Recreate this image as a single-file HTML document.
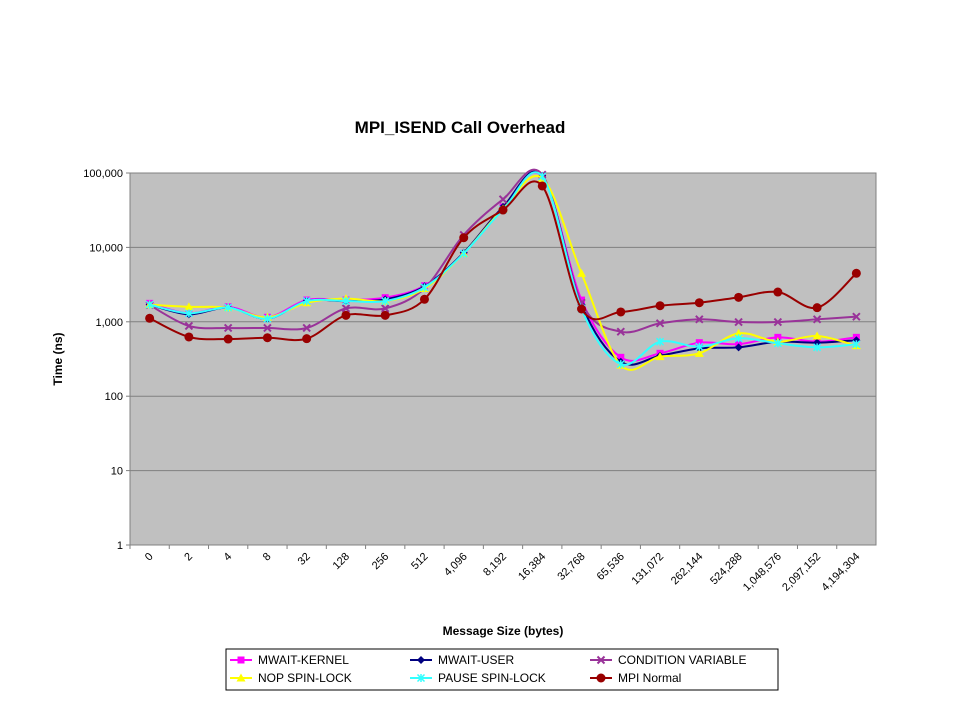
<!DOCTYPE html>
<html><head><meta charset="utf-8"><style>
body{margin:0;background:#fff;}
svg{display:block;font-family:"Liberation Sans",Arial,sans-serif;}
</style></head><body>
<svg id="chart" width="960" height="720" viewBox="0 0 960 720">
<text x="460" y="133" text-anchor="middle" font-size="17" font-weight="bold">MPI_ISEND Call Overhead</text>
<rect x="130" y="173" width="746" height="372" fill="#c0c0c0" stroke="#808080" stroke-width="1"/>
<g id="grid"></g><g id="yt"></g><g id="xt"></g><g id="series"></g>
<text transform="translate(62,359) rotate(-90)" text-anchor="middle" font-size="12" font-weight="bold">Time (ns)</text>
<text x="503" y="635" text-anchor="middle" font-size="12" font-weight="bold">Message Size (bytes)</text>
<g>
<rect x="226" y="649" width="552" height="41" fill="#fff" stroke="#000" stroke-width="1"/>
<g id="legend"></g>
</g>
</svg>
<script>
const categories=["0","2","4","8","32","128","256","512","4,096","8,192","16,384","32,768","65,536","131,072","262,144","524,288","1,048,576","2,097,152","4,194,304"];
const yTicks=[1,10,100,1000,10000,100000];
const yTickLabels=["1","10","100","1,000","10,000","100,000"];
const seriesNames=["MWAIT-KERNEL","MWAIT-USER","CONDITION VARIABLE","NOP SPIN-LOCK","PAUSE SPIN-LOCK","MPI Normal"];
const mwaitKernel=[1770,1300,1590,1150,1960,1960,2110,3050,8320,35000,90000,1960,333,377,524,500,618,540,618];
const mwaitUser=[1700,1260,1550,1100,1900,1900,2000,3000,8500,35000,92000,1700,290,350,440,454,540,524,566];
const condVar=[1680,879,826,826,826,1515,1515,2820,14700,44300,95000,1800,736,955,1080,993,993,1080,1172];
const nopSpin=[1700,1590,1550,1150,1800,2050,1900,2800,8300,33000,85000,4480,262,340,377,700,540,645,478];
const pauseSpin=[1700,1300,1550,1100,1900,1900,1900,2900,8300,32000,90000,1500,270,540,462,600,514,454,500];
const mpiNormal=[1115,625,587,611,593,1222,1222,2006,13500,31800,66900,1486,1355,1645,1806,2133,2513,1548,4487];
const allSeries=[mwaitKernel,mwaitUser,condVar,nopSpin,pauseSpin,mpiNormal];
const colors=["#ff00ff","#000080","#993399","#ffff00","#33ffff","#990000"];
const markers=["square","diamond","x","triangle","star","circle"];
const NS="http://www.w3.org/2000/svg";
const L=130,R=876,T=173,B=545;
function xs(i){return L+(i+0.5)*(R-L)/categories.length;}
function ys(v){return B-(Math.log10(v)-0)/5*(B-T);}
function mk(tag,attrs,parent){const e=document.createElementNS(NS,tag);for(const k in attrs)e.setAttribute(k,attrs[k]);parent.appendChild(e);return e;}
const grid=document.getElementById('grid'),yt=document.getElementById('yt'),xt=document.getElementById('xt');
yTicks.forEach((t,i)=>{const y=ys(t);
 if(i>0&&i<yTicks.length-1){const g=mk('line',{x1:L,x2:R,y1:y,y2:y,stroke:'#808080','stroke-width':1},grid);}
 mk('line',{x1:L-4,x2:L,y1:y,y2:y,stroke:'#808080'},yt);
 const tx=mk('text',{x:L-7,y:y+4,'text-anchor':'end','font-size':11},yt);tx.textContent=yTickLabels[i];
 });
categories.forEach((c,i)=>{const x=xs(i);
 mk('line',{x1:L+i*(R-L)/categories.length,x2:L+i*(R-L)/categories.length,y1:B,y2:B+4,stroke:'#808080'},xt);
 const tx=mk('text',{transform:`translate(${x+4},${B+12}) rotate(-45)`,'text-anchor':'end','font-size':11},xt);tx.textContent=c;
 });
function marker(type,x,y,col,parent){
 let e;
 if(type==='square')e=mk('rect',{x:x-3.5,y:y-3.5,width:7,height:7,fill:col},parent);
 else if(type==='diamond')e=mk('polygon',{points:`${x},${y-4} ${x+4},${y} ${x},${y+4} ${x-4},${y}`,fill:col},parent);
 else if(type==='triangle')e=mk('polygon',{points:`${x},${y-4.5} ${x+4.5},${y+3.5} ${x-4.5},${y+3.5}`,fill:col},parent);
 else if(type==='circle')e=mk('circle',{cx:x,cy:y,r:4.5,fill:col},parent);
 else if(type==='x')e=mk('path',{d:`M${x-3.5},${y-3.5}L${x+3.5},${y+3.5}M${x+3.5},${y-3.5}L${x-3.5},${y+3.5}`,stroke:col,'stroke-width':2},parent);
 else e=mk('path',{d:`M${x-3.5},${y-3.5}L${x+3.5},${y+3.5}M${x+3.5},${y-3.5}L${x-3.5},${y+3.5}M${x},${y-4}L${x},${y+4}`,stroke:col,'stroke-width':1.5},parent);
 return e;}
const sg=document.getElementById('series');
allSeries.forEach((data,s)=>{
 const g=mk('g',{},sg);
 const p=data.map((v,i)=>[xs(i),ys(v)]);
 let d=`M${p[0][0]},${p[0][1]}`;
 for(let i=0;i<p.length-1;i++){const p0=p[Math.max(0,i-1)],p1=p[i],p2=p[i+1],p3=p[Math.min(p.length-1,i+2)];
  const k=1/6;d+=`C${p1[0]+(p2[0]-p0[0])*k},${p1[1]+(p2[1]-p0[1])*k} ${p2[0]-(p3[0]-p1[0])*k},${p2[1]-(p3[1]-p1[1])*k} ${p2[0]},${p2[1]}`;}
 const ln=mk('path',{d:d,fill:'none',stroke:colors[s],'stroke-width':2},g);
 
 p.forEach(pt=>{const m=marker(markers[s],pt[0],pt[1],colors[s],g);});
});
const lg=document.getElementById('legend');
const lx=[230,410,590],lyy=[660,678];
seriesNames.forEach((n,s)=>{const x=lx[s%3],y=lyy[Math.floor(s/3)];
 const g=mk('g',{},lg);
 mk('line',{x1:x,x2:x+22,y1:y,y2:y,stroke:colors[s],'stroke-width':2},g);
 marker(markers[s],x+11,y,colors[s],g);
 const t=mk('text',{x:x+28,y:y+4,'font-size':12},g);t.textContent=n;});
</script>
</body></html>
